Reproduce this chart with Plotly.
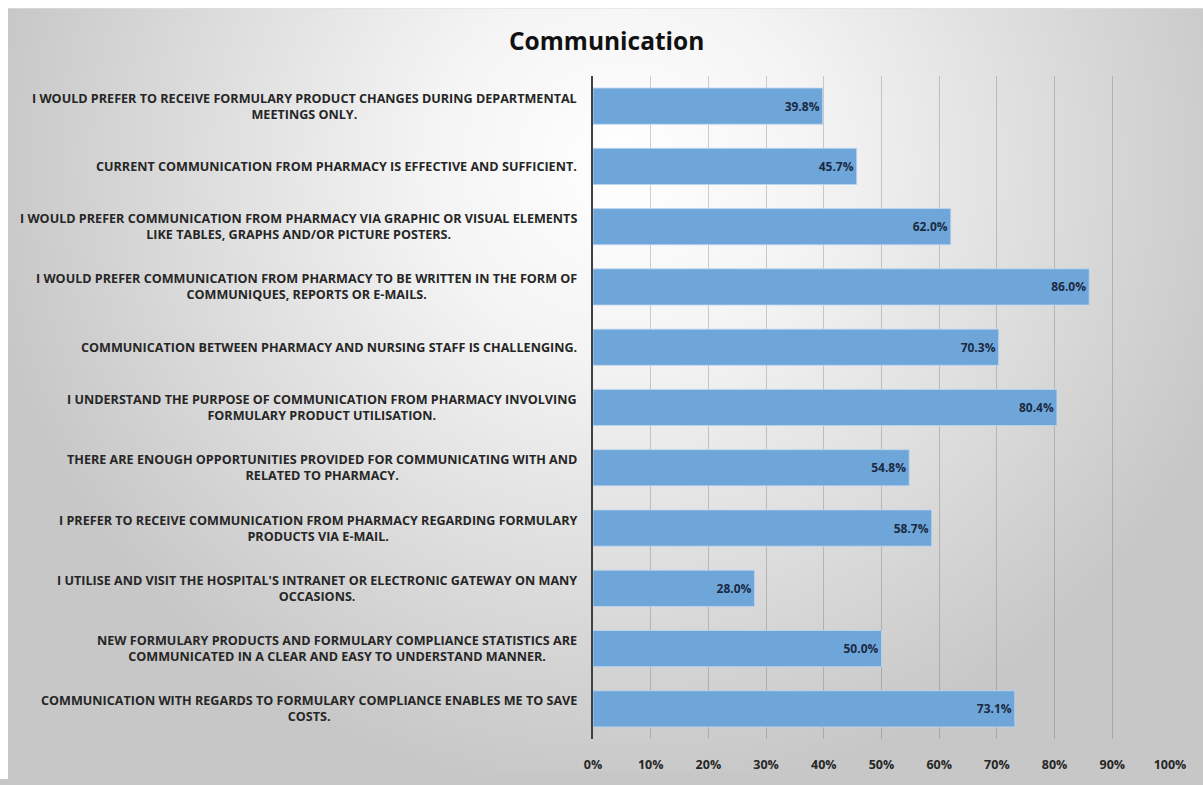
import plotly.graph_objects as go
import urllib.parse

categories = [
    "I WOULD PREFER TO RECEIVE FORMULARY PRODUCT CHANGES DURING DEPARTMENTAL<br>MEETINGS ONLY.",
    "CURRENT COMMUNICATION FROM PHARMACY IS EFFECTIVE AND SUFFICIENT.",
    "I WOULD PREFER COMMUNICATION FROM PHARMACY VIA GRAPHIC OR VISUAL ELEMENTS<br>LIKE TABLES, GRAPHS AND/OR PICTURE POSTERS.",
    "I WOULD PREFER COMMUNICATION FROM PHARMACY TO BE WRITTEN IN THE FORM OF<br>COMMUNIQUES, REPORTS OR E-MAILS.",
    "COMMUNICATION BETWEEN PHARMACY AND NURSING STAFF IS CHALLENGING.",
    "I UNDERSTAND THE PURPOSE OF COMMUNICATION FROM PHARMACY INVOLVING<br>FORMULARY PRODUCT UTILISATION.",
    "THERE ARE ENOUGH OPPORTUNITIES PROVIDED FOR COMMUNICATING WITH AND<br>RELATED TO PHARMACY.",
    "I PREFER TO RECEIVE COMMUNICATION FROM PHARMACY REGARDING FORMULARY<br>PRODUCTS VIA E-MAIL.",
    "I UTILISE AND VISIT THE HOSPITAL'S INTRANET OR ELECTRONIC GATEWAY ON MANY<br>OCCASIONS.",
    "NEW FORMULARY PRODUCTS AND FORMULARY COMPLIANCE STATISTICS ARE<br>COMMUNICATED IN A CLEAR AND EASY TO UNDERSTAND MANNER.",
    "COMMUNICATION WITH REGARDS TO FORMULARY COMPLIANCE ENABLES ME TO SAVE<br>COSTS.",
]
values = [39.8, 45.7, 62.0, 86.0, 70.3, 80.4, 54.8, 58.7, 28.0, 50.0, 73.1]
tick_vals = [0, 10, 20, 30, 40, 50, 60, 70, 80, 90, 100]
tick_text = ["0%", "10%", "20%", "30%", "40%", "50%", "60%", "70%", "80%", "90%", "100%"]
title_text = "Communication"

W, H = 1203, 785
FONT = "Open Sans"
EDGE = "#c7c7c7"

svg = (
    '<svg xmlns="http://www.w3.org/2000/svg" width="1195" height="778" viewBox="0 0 1195 778" preserveAspectRatio="none">'
    '<defs><radialGradient id="g" gradientUnits="userSpaceOnUse" cx="615" cy="160" r="640">'
    '<stop offset="0" stop-color="#ffffff"/><stop offset="0.3" stop-color="#f4f4f4"/>'
    '<stop offset="1" stop-color="' + EDGE + '"/></radialGradient></defs>'
    '<rect x="0" y="0" width="1195" height="778" fill="url(#g)"/></svg>'
)
bg_src = "data:image/svg+xml;charset=utf-8," + urllib.parse.quote(svg)

fig = go.Figure()
fig.add_trace(go.Bar(
    y=list(range(len(categories))),
    x=values,
    orientation="h",
    width=0.6,
    marker=dict(color="#6fa6da", line=dict(color="rgba(190,215,240,0.8)", width=1)),
    text=[f"{v:.1f}%" for v in values],
    textposition="inside",
    insidetextanchor="end",
    textfont=dict(family=FONT, size=12, color="#1b2a42", weight="bold"),
    cliponaxis=False,
    hoverinfo="skip",
))

for i, c in enumerate(categories):
    fig.add_annotation(
        x=-0.024, xref="paper", y=i, yref="y",
        text=c, showarrow=False, xanchor="right", yanchor="middle",
        align="center",
        font=dict(family=FONT, size=12.6, color="#262626", weight="bold"),
    )

fig.add_annotation(
    x=0.024, xref="paper", y=1.0, yref="paper", yshift=36,
    text=title_text, showarrow=False, xanchor="center", yanchor="middle",
    font=dict(family=FONT, size=24.5, color="#111111", weight="bold"),
)

fig.update_layout(
    width=W, height=H,
    margin=dict(l=593, r=33, t=76, b=34),
    paper_bgcolor=EDGE,
    plot_bgcolor="rgba(0,0,0,0)",
    showlegend=False,
    bargap=0.4,
    images=[dict(source=bg_src, xref="paper", yref="paper",
                 x=-593/577 + 8/577, y=1 + 69/675, sizex=1195/577, sizey=778/675,
                 xanchor="left", yanchor="top", sizing="stretch", layer="below")],
    shapes=[
        dict(type="rect", xref="paper", yref="paper",
             x0=-593/577 - 0.01, x1=-593/577 + 8/577, y0=-34/675 - 0.01, y1=1 + 76/675 + 0.01,
             fillcolor="white", line=dict(width=0), layer="below"),
        dict(type="rect", xref="paper", yref="paper",
             x0=-593/577 - 0.01, x1=1 + 33/577 + 0.01, y0=1 + 69/675, y1=1 + 76/675 + 0.01,
             fillcolor="white", line=dict(width=0), layer="below"),
    ],
    xaxis=dict(
        range=[0, 100], tickvals=tick_vals, ticktext=tick_text,
        showgrid=True, gridcolor="rgba(70,70,70,0.25)", gridwidth=1,
        zeroline=False, showline=False, ticks="", ticklabelstandoff=16,
        tickfont=dict(family=FONT, size=12.5, color="#262626", weight="bold"),
        fixedrange=True,
    ),
    yaxis=dict(
        range=[len(categories) - 0.5, -0.5],
        showticklabels=False, showgrid=False, zeroline=False,
        showline=True, linecolor="#404040", linewidth=2,
        fixedrange=True,
    ),
)

fig.write_html("out.html")
